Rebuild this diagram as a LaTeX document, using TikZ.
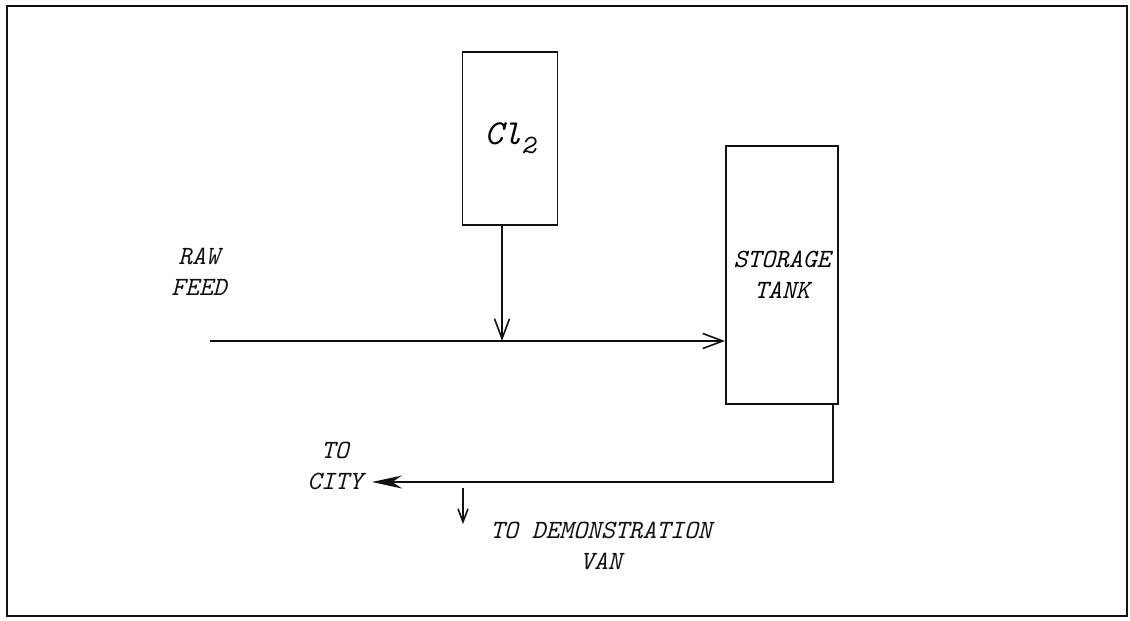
\documentclass[tikz,border=0pt]{standalone}
\usepackage{tikz}
\usetikzlibrary{arrows.meta, positioning}
\definecolor{ink}{HTML}{111111}

\begin{document}
\begin{tikzpicture}[
    x=0.02cm, y=-0.02cm,
    font=\fontsize{15}{17.5}\selectfont\ttfamily\itshape,
    vessel/.style={draw=ink, line width=1.1pt, inner sep=0pt, align=center},
    lbl/.style={inner sep=0pt, align=center, text=ink},
    pipe/.style={draw=ink, line width=0.9pt},
    ar/.style={pipe, -{Straight Barb[length=4mm, width=3mm]}},
    arf/.style={pipe, -{Stealth[length=6mm, width=2.6mm]}},
    ars/.style={pipe, -{Straight Barb[length=2.6mm, width=2mm]}}
  ]
    \useasboundingbox (0,0) rectangle (1130,620);
    \draw[ink, line width=1.3pt] (7,6) rectangle (1127,616);
    \node[vessel, minimum width=1.9cm, minimum height=3.46cm] (cl) at (510,138.5)
      {\fontsize{20}{20}\selectfont Cl\raisebox{-0.6ex}{\fontsize{15}{15}\selectfont 2}};
    \node[vessel, minimum width=2.24cm, minimum height=5.16cm] (tank) at (782,275)
      {STORAGE\\TANK};
    \coordinate (feed) at (210,341);
    \coordinate (drop) at (502,225);
    \coordinate (out) at (833,482);
    \coordinate (city) at (372,482);
    \coordinate (van) at (463,488);
    \node[lbl, anchor=base west] (rawfeed) at (171,295) {RAW\\FEED};
    \node[lbl, anchor=east] (tocity) at (363,466) {TO\\CITY};
    \node[lbl] (tovan) at (601,546) {TO DEMONSTRATION\\VAN};
    \draw[ar] (feed) -- (feed -| tank.west);
    \draw[ar] (drop) -- (drop |- feed);
    \draw[arf] (tank.south -| out) -- (out) -- (city);
    \draw[ars] (van) -- ++(0,36);
  \end{tikzpicture}
\end{document}
